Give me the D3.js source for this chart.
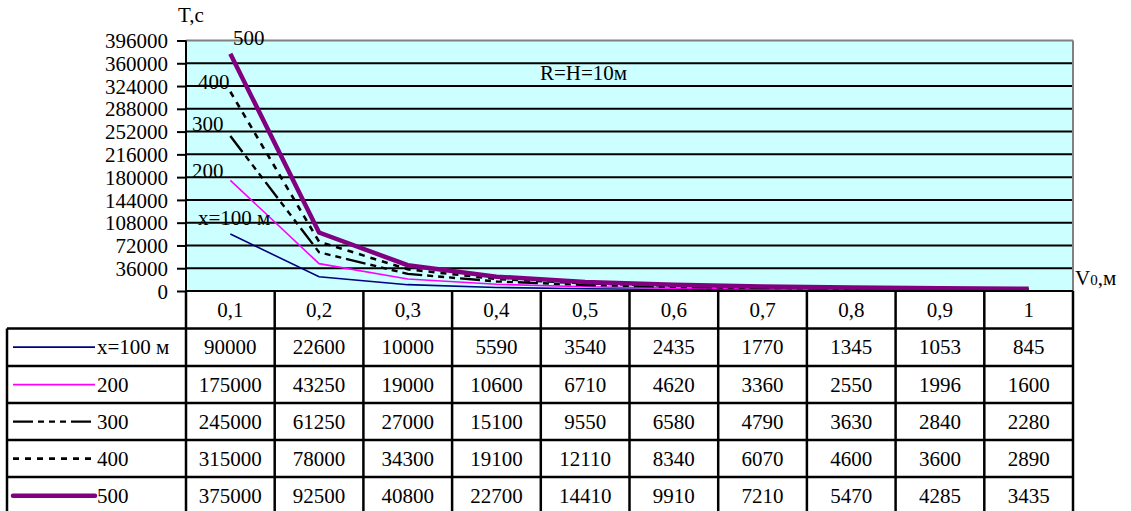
<!DOCTYPE html>
<html><head><meta charset="utf-8">
<script src="https://cdn.jsdelivr.net/npm/d3@7"></script>
<style>body{margin:0;background:#fff}svg{display:block}svg text{font-family:'Liberation Serif','Times New Roman','DejaVu Serif',serif !important;fill:#000}</style>
</head><body><svg id="c" width="1131" height="511"></svg>
<script>
const categories = ["0,1","0,2","0,3","0,4","0,5","0,6","0,7","0,8","0,9","1"];
const seriesNames = ["x=100 м","200","300","400","500"];
const s100 = [90000,22600,10000,5590,3540,2435,1770,1345,1053,845];
const s200 = [175000,43250,19000,10600,6710,4620,3360,2550,1996,1600];
const s300 = [245000,61250,27000,15100,9550,6580,4790,3630,2840,2280];
const s400 = [315000,78000,34300,19100,12110,8340,6070,4600,3600,2890];
const s500 = [375000,92500,40800,22700,14410,9910,7210,5470,4285,3435];
const yTicks = [0,36000,72000,108000,144000,180000,216000,252000,288000,324000,360000,396000];

const seriesData = [s100,s200,s300,s400,s500];
const styles = [
  {color:"#000080", w:1.6, dash:null},
  {color:"#ff00ff", w:1.6, dash:null},
  {color:"#000000", w:2.4, dash:"20,5,6,5,6,5,6,5"},
  {color:"#000000", w:2.6, dash:"6,6"},
  {color:"#800080", w:4.5, dash:null}
];

const svg = d3.select("#c");
const L = 186, R = 1073, T = 40.5, B = 291;
const x = d3.scaleBand().domain(categories).range([L,R]);
const y = d3.scaleLinear().domain([0,396000]).range([B,T]);
const FS = 21;

svg.append("rect").attr("x",L).attr("y",T).attr("width",R-L).attr("height",B-T).attr("fill","#ccffff");
svg.append("g").selectAll("line").data(yTicks.filter(d=>d>0 && d<396000)).join("line")
  .attr("x1",L).attr("x2",R).attr("y1",d=>y(d)).attr("y2",d=>y(d)).attr("stroke","#000").attr("stroke-width",2);
svg.append("line").attr("x1",L).attr("x2",R).attr("y1",T).attr("y2",T).attr("stroke","#808080").attr("stroke-width",2);
svg.append("line").attr("x1",R).attr("x2",R).attr("y1",T).attr("y2",B).attr("stroke","#808080").attr("stroke-width",2);

const yAxis = d3.axisLeft(y).tickValues(yTicks).tickSize(9).tickPadding(9).tickFormat(d=>String(d));
const ga = svg.append("g").attr("transform",`translate(${L},0)`).call(yAxis);
ga.attr("font-family",null).attr("font-size",FS);
ga.select(".domain").attr("stroke","#000").attr("stroke-width",2).attr("d",`M0,${T}V${B}`);
ga.selectAll(".tick line").attr("stroke","#000").attr("stroke-width",2);
ga.selectAll(".tick text").attr("font-size",FS).attr("fill","#000").attr("dy","0.34em");

const line = d3.line().x((d,i)=>x(categories[i])+x.bandwidth()/2).y(d=>y(d));
seriesData.forEach((s,k)=>{
  const p = svg.append("path").datum(s).attr("d",line).attr("fill","none")
    .attr("stroke",styles[k].color).attr("stroke-width",styles[k].w).attr("stroke-linejoin","miter");
  if(styles[k].dash) p.attr("stroke-dasharray",styles[k].dash);
});
svg.append("line").attr("x1",L).attr("x2",R).attr("y1",B).attr("y2",B).attr("stroke","#000").attr("stroke-width",2);

const lbl = (t,xx,yy,anchor)=>svg.append("text").attr("x",xx).attr("y",yy).attr("font-size",FS).attr("text-anchor",anchor||"start").text(t);
lbl("T,c",178,22);
lbl("500",233,45);
lbl("400",198,89);
lbl("300",192,131);
lbl("200",192,178);
lbl("x=100 м",198,225);
lbl("R=H=10м",540,80);
const vt = svg.append("text").attr("x",1075).attr("y",285).attr("font-size",FS);
vt.append("tspan").text("V");
vt.append("tspan").attr("font-size",15).text("0");
vt.append("tspan").attr("font-size",FS).text(",м");

const rowTop = [291,328.5,366,403,440,477];
const rowH = 37.3;
const tb = svg.append("g");
tb.selectAll("text.h").data(categories).join("text").attr("class","h")
  .attr("x",d=>x(d)+x.bandwidth()/2).attr("y",rowTop[0]+rowH/2+7).attr("text-anchor","middle").attr("font-size",FS).text(d=>d);
seriesData.forEach((s,k)=>{
  const yy = rowTop[k+1];
  tb.selectAll(null).data(s).join("text")
    .attr("x",(d,i)=>x(categories[i])+x.bandwidth()/2).attr("y",yy+rowH/2+7)
    .attr("text-anchor","middle").attr("font-size",FS).text(d=>String(d));
  const ly = yy+rowH/2;
  const lk = tb.append("line").attr("x1",13).attr("x2",95).attr("y1",ly).attr("y2",ly)
    .attr("stroke",styles[k].color).attr("stroke-width",styles[k].w);
  if(styles[k].dash) lk.attr("stroke-dasharray",styles[k].dash);
  if(k===4) lk.attr("stroke-linecap","round");
  tb.append("text").attr("x",97).attr("y",ly+7).attr("font-size",FS).text(seriesNames[k]);
});
const gridC = "#000";
tb.append("line").attr("x1",L).attr("x2",R).attr("y1",rowTop[0]).attr("y2",rowTop[0]).attr("stroke",gridC).attr("stroke-width",2);
for(let k=1;k<rowTop.length;k++){
  tb.append("line").attr("x1",7).attr("x2",R).attr("y1",rowTop[k]).attr("y2",rowTop[k]).attr("stroke",gridC).attr("stroke-width",2.5);
}
tb.append("line").attr("x1",7).attr("x2",R).attr("y1",514).attr("y2",514).attr("stroke",gridC).attr("stroke-width",2.5);
const colX = categories.map(c=>x(c)).concat([R]);
colX.forEach(cx=>{
  tb.append("line").attr("x1",cx).attr("x2",cx).attr("y1",rowTop[0]).attr("y2",514).attr("stroke",gridC).attr("stroke-width",2.5);
});
tb.append("line").attr("x1",7).attr("x2",7).attr("y1",rowTop[1]).attr("y2",514).attr("stroke",gridC).attr("stroke-width",2.5);
</script></body></html>
